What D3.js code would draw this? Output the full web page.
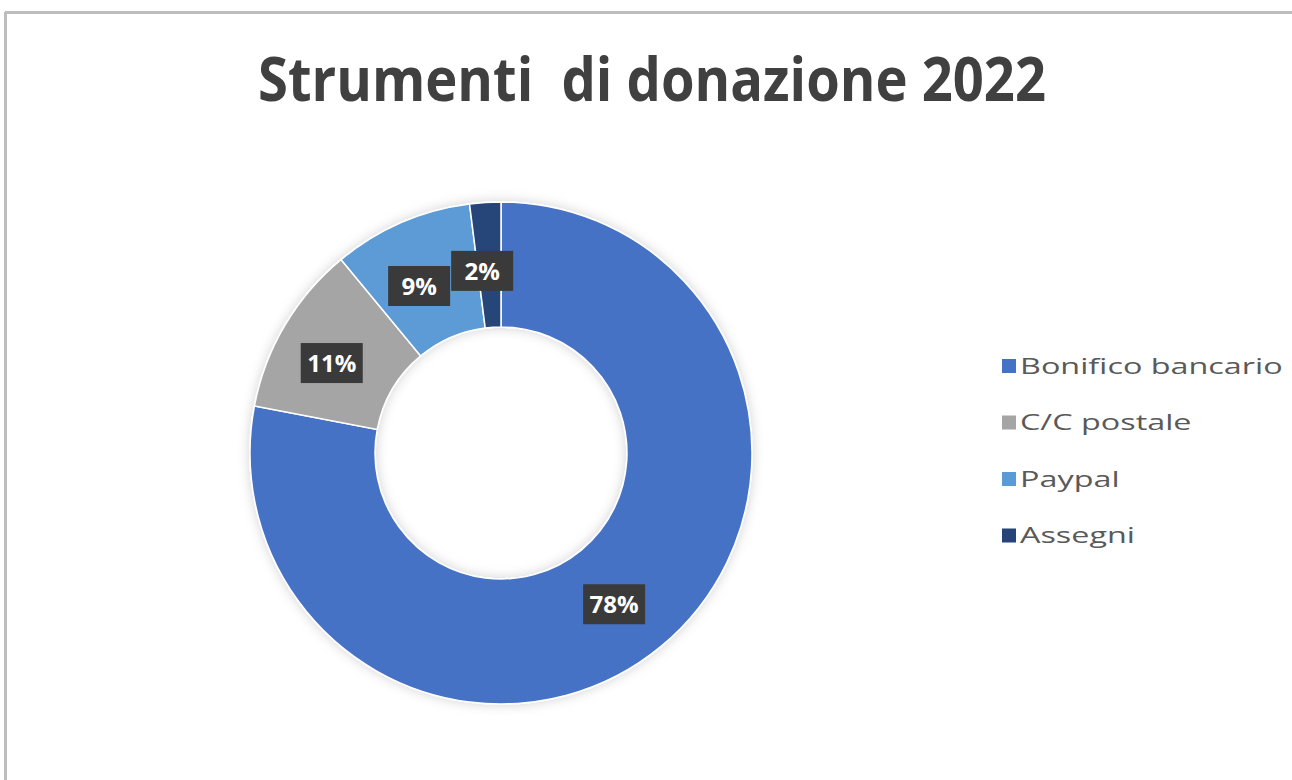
<!DOCTYPE html>
<html><head><meta charset="utf-8">
<script src="https://cdn.jsdelivr.net/npm/d3@7"></script>
<style>body{margin:0;background:#fff;}svg{display:block;}</style>
</head><body>
<svg id="c" width="1292" height="780"></svg>
<script>
const categories = ["Bonifico bancario", "C/C postale", "Paypal", "Assegni"];
const values = [78, 11, 9, 2];
const colors = ["#4472C4", "#A5A5A5", "#5B9BD5", "#264478"];
const title = "Strumenti  di donazione 2022";

const svg = d3.select("#c");
const defs = svg.append("defs");
const f = defs.append("filter").attr("id","glow").attr("x","-20%").attr("y","-20%").attr("width","140%").attr("height","140%");
f.append("feGaussianBlur").attr("in","SourceAlpha").attr("stdDeviation",6).attr("result","b");
f.append("feFlood").attr("flood-color","#000").attr("flood-opacity",0.18);
f.append("feComposite").attr("in2","b").attr("operator","in").attr("result","s");
const m = f.append("feMerge"); m.append("feMergeNode").attr("in","s"); m.append("feMergeNode").attr("in","SourceGraphic");

// frame
svg.append("line").attr("x1",5).attr("x2",1292).attr("y1",12.5).attr("y2",12.5).attr("stroke","#bdbdbd").attr("stroke-width",3);
svg.append("line").attr("x1",5.5).attr("x2",5.5).attr("y1",12).attr("y2",780).attr("stroke","#bdbdbd").attr("stroke-width",3);

svg.append("text").attr("x",652).attr("y",101).attr("text-anchor","middle")
  .attr("font-family","'Liberation Sans Narrow', 'Open Sans', sans-serif").attr("font-weight","bold").attr("font-size",60)
  .attr("textLength",788).attr("lengthAdjust","spacingAndGlyphs")
  .attr("fill","#404040").attr("xml:space","preserve").text(title);

const cx = 501, cy = 453, R = 251, r = 126;
const color = d3.scaleOrdinal().domain(categories).range(colors);
const pie = d3.pie().sort(null).value(d => d.v);
const data = categories.map((c,i)=>({c, v: values[i]}));
const arcs = pie(data);
const arc = d3.arc().innerRadius(r).outerRadius(R);
const g = svg.append("g").attr("transform",`translate(${cx},${cy})`);
g.append("g").attr("filter","url(#glow)").selectAll("path").data(arcs).join("path")
  .attr("d",arc).attr("fill",d=>color(d.data.c)).attr("stroke","#fff").attr("stroke-width",1.5);

const lab = g.selectAll("g.lab").data(arcs).join("g").attr("class","lab")
  .attr("transform",d=>{const [x,y]=arc.centroid(d);return `translate(${x-7},${y+6})`;});
lab.append("rect").attr("x",-31).attr("y",-20).attr("width",62).attr("height",40).attr("fill","#3a3a3a");
lab.append("text").attr("text-anchor","middle").attr("dy","0.36em")
  .attr("font-family","'Open Sans', sans-serif").attr("font-weight","bold").attr("font-size",24)
  .attr("fill","#fff").text(d=>d.data.v+"%");

// legend
const leg = svg.append("g").attr("transform","translate(1009,366)");
const li = leg.selectAll("g").data(categories).join("g").attr("transform",(d,i)=>`translate(0,${i*56.5})`);
li.append("rect").attr("x",-7).attr("y",-7).attr("width",14).attr("height",14).attr("fill",d=>color(d));
li.append("text").attr("x",11).attr("dy","0.35em").attr("font-family","'Open Sans', sans-serif")
  .attr("font-size",22).attr("fill","#595959").text(d=>d)
  .each(function(){ const L=this.getComputedTextLength(); d3.select(this).attr("textLength",L*1.47).attr("lengthAdjust","spacingAndGlyphs"); });
</script>
</body></html>
